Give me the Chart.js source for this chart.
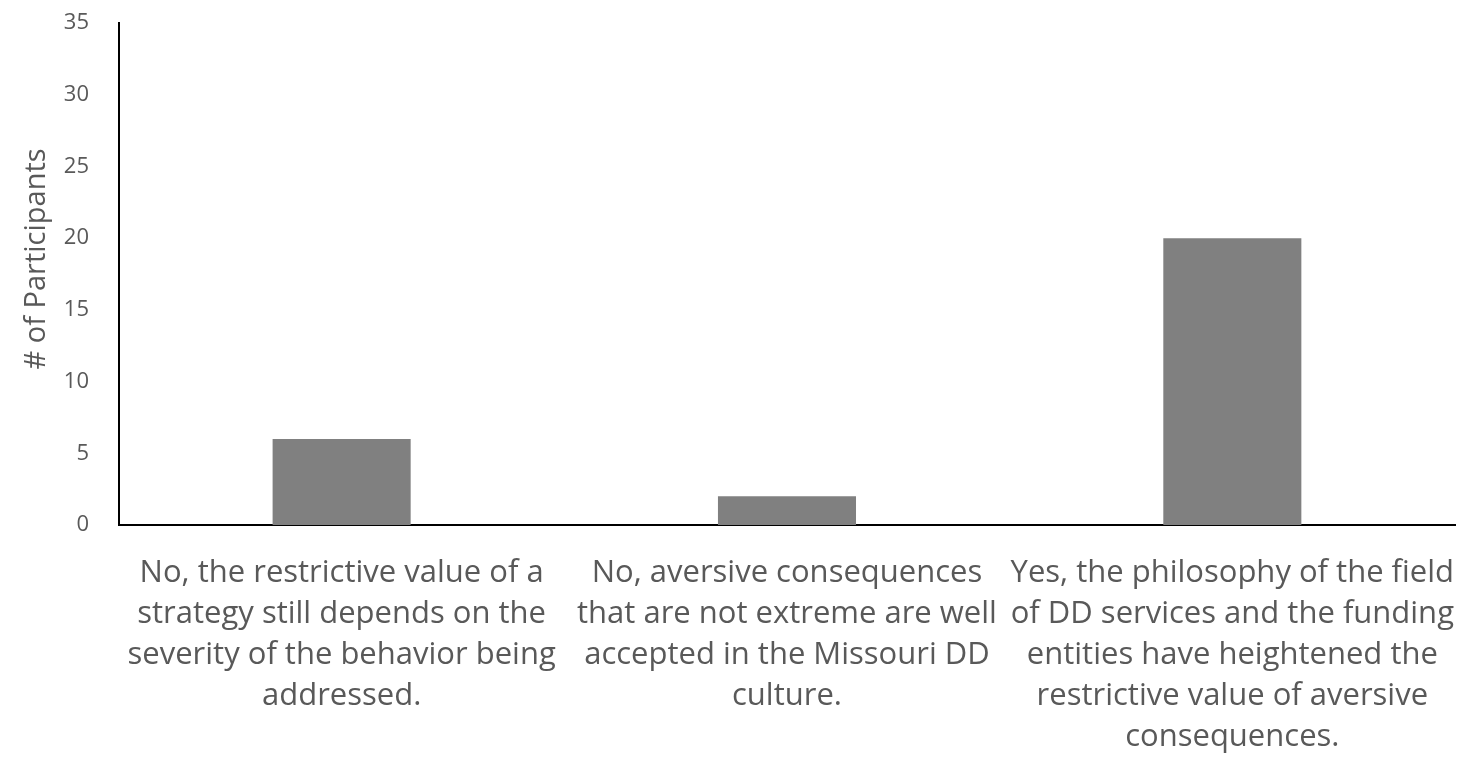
<!DOCTYPE html>
<html>
<head>
<meta charset="utf-8">
<script src="https://cdn.jsdelivr.net/npm/chart.js@4/dist/chart.umd.min.js"></script>
<style>
html,body{margin:0;padding:0;background:#fff;}
#wrap{width:1461px;height:759px;position:relative;}
</style>
</head>
<body>
<div id="wrap"><canvas id="c" width="1461" height="759"></canvas></div>
<script>
const categories = [
  ["No, the restrictive value of a", "strategy still depends on the", "severity of the behavior being", "addressed."],
  ["No, aversive consequences", "that are not extreme are well", "accepted in the Missouri DD", "culture."],
  ["Yes, the philosophy of the field", "of DD services and the funding", "entities have heightened the", "restrictive value of aversive", "consequences."]
];
const participants = [6, 2, 20];
const yTitle = "# of Participants";

const FONT = "'Open Sans', 'Liberation Sans', sans-serif";
new Chart(document.getElementById('c'), {
  type: 'bar',
  data: {
    labels: categories,
    datasets: [{
      data: participants,
      backgroundColor: '#808080',
      borderWidth: 0,
      categoryPercentage: 1,
      barPercentage: 0.31
    }]
  },
  options: {
    responsive: false,
    animation: false,
    layout: { padding: { top: 23, right: 6, left: 19, bottom: -19 } },
    plugins: { legend: { display: false }, tooltip: { enabled: false } },
    scales: {
      x: {
        grid: { display: false },
        border: { display: true, color: '#000', width: 2 },
        afterFit: (s) => { s.paddingLeft = 0; s.paddingRight = 0; },
        ticks: {
          color: '#595959',
          maxRotation: 0,
          autoSkip: false,
          padding: 20,
          font: { family: FONT, size: 31, lineHeight: '41px' }
        }
      },
      y: {
        min: 0, max: 35,
        grid: { display: false },
        border: { display: true, color: '#000', width: 2 },
        afterFit: (s) => { s.paddingTop = 0; s.paddingBottom = 0; },
        ticks: {
          stepSize: 5,
          color: '#595959',
          padding: 22,
          font: { family: FONT, size: 22 }
        },
        title: {
          display: true,
          text: "    " + yTitle,
          color: '#595959',
          padding: { top: 0, bottom: -12 },
          font: { family: FONT, size: 29 }
        }
      }
    }
  }
});
</script>
</body>
</html>
